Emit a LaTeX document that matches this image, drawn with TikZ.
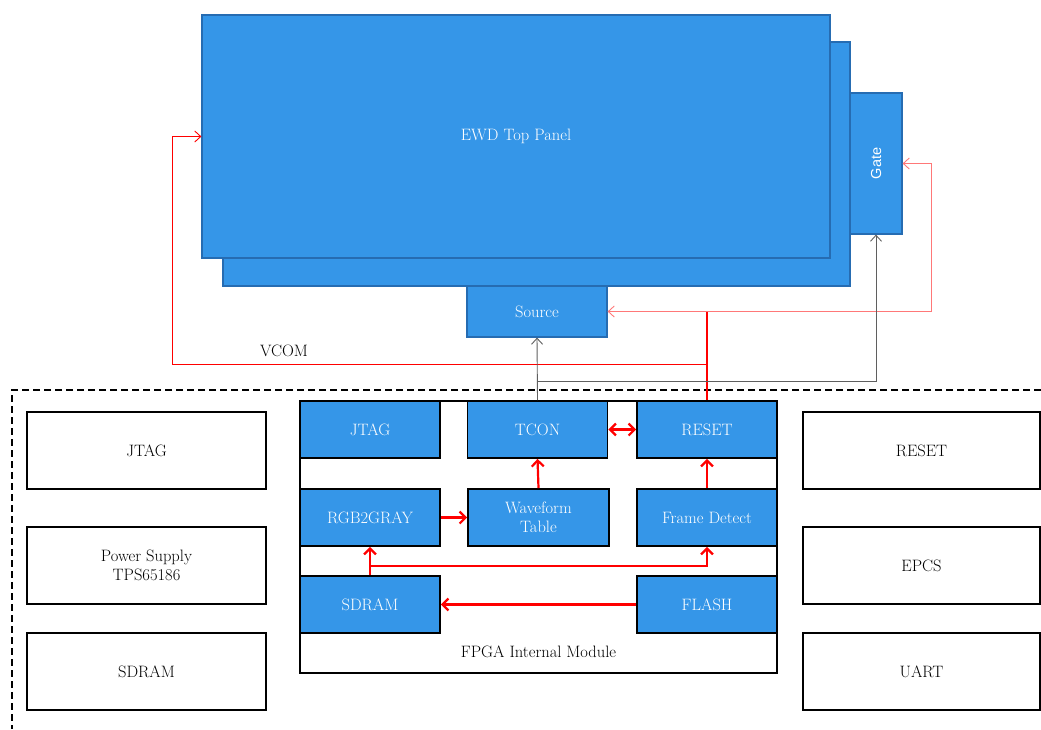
\documentclass[tikz,border=0pt]{standalone}
\usepackage{fontspec}
\newfontfamily\gatefont{Liberation Sans}
\usetikzlibrary{arrows.meta}
\definecolor{panelblue}{RGB}{53,150,232}
\definecolor{paneledge}{RGB}{38,108,178}
\definecolor{pinkline}{RGB}{255,120,120}
\definecolor{conngray}{RGB}{95,95,95}
\begin{document}
\begin{tikzpicture}[x=1pt,y=-1pt,
  txt/.style={font=\fontsize{16.5}{19}\selectfont},
  panel/.style={draw=paneledge,fill=panelblue,line width=1.2pt,text=white,inner sep=0pt,txt},
  innerbox/.style={draw=black,fill=panelblue,line width=1.8pt,text=white,inner sep=0pt,
    minimum width=140pt,minimum height=57pt,align=center,txt},
  extbox/.style={draw=black,fill=white,line width=1.4pt,inner sep=0pt,
    minimum height=77pt,align=center,txt},
  fat/.style={red,line width=2.2pt,-{Straight Barb[length=6pt,width=12pt]}},
  thinarrow/.style={line width=0.9pt,-{Straight Barb[length=6pt,width=11pt]}}
]
\useasboundingbox (0,0) rectangle (1041,729);

% top panel
\node[panel,minimum width=627pt,minimum height=244pt] (back) at (536.5,164) {};
\node[panel,minimum width=628pt,minimum height=243pt] (front) at (516,136.5) {EWD Top Panel};
\node[panel,minimum width=52pt,minimum height=141pt] (gate) at (876,163.5) {};
\node[rotate=90,text=white,font=\gatefont\fontsize{14.5}{16}\selectfont] (gatelbl) at (gate.center) {Gate};
\node[panel,minimum width=140pt,minimum height=51pt] (src) at (537,311.5) {Source};

% dashed board outline
\coordinate (dr) at (1041,390);
\coordinate (dl) at (12,729);
\draw[dashed,line width=1.4pt,dash pattern=on 7pt off 4pt] (dr) -| (dl);

% external boxes
\node[extbox,minimum width=239pt] (ejtag) at (146.5,450.5) {JTAG};
\node[extbox,minimum width=239pt] (epow) at (146.5,565.5) {Power Supply\\TPS65186};
\node[extbox,minimum width=239pt] (esd) at (146.5,671.5) {SDRAM};
\node[extbox,minimum width=237pt] (erst) at (921.5,450.5) {RESET};
\node[extbox,minimum width=237pt] (epcs) at (921.5,565.5) {EPCS};
\node[extbox,minimum width=237pt] (euart) at (921.5,671.5) {UART};

% FPGA internal module
\node[draw=black,fill=white,line width=1.4pt,minimum width=477pt,minimum height=272pt,inner sep=0pt] (fpga) at (538.5,537) {};
\node[txt] (fpgalbl) at (538.5,652) {FPGA Internal Module};

\node[innerbox] (ijtag) at (370,429.5) {JTAG};
\node[innerbox] (itcon) at (537.5,429.5) {TCON};
\node[innerbox] (irst) at (707,429.5) {RESET};
\node[innerbox] (irgb) at (370,517.5) {RGB2GRAY};
\node[innerbox,minimum width=141pt] (iwave) at (538.5,517.5) {Waveform\\Table};
\node[innerbox] (iframe) at (707,517.5) {Frame Detect};
\node[innerbox] (isd) at (370,604.5) {SDRAM};
\node[innerbox] (iflash) at (707,604.5) {FLASH};

% internal arrows
\draw[fat,{Straight Barb[length=6pt,width=12pt]}-{Straight Barb[length=6pt,width=12pt]}] (itcon.east) -- (irst.west);
\draw[fat] (iwave.north) -- (itcon.south);
\draw[fat] (iframe.north) -- (irst.south);
\draw[fat] (irgb.east) -- (iwave.west);
\draw[fat] (isd.north) -- (irgb.south);
\coordinate (split) at (370,566);
\draw[fat] (split) -| (iframe.south);
\draw[fat] (iflash.west) -- (isd.east);

% connections to panel
\coordinate (vj) at (707,364);
\coordinate (vl) at (172,364);
\coordinate (sj) at (707,311.5);
\coordinate (gr) at (931,311.5);
\draw[red,line width=1.3pt] (irst.north) -- (sj);
\draw[red,thinarrow] (vj) -- (vl) |- (front.west);
\node[txt] (vcom) at (284,351) {VCOM};
\draw[pinkline,thinarrow] (sj) -- (src.east);
\draw[pinkline,thinarrow] (sj) -- (gr) |- (gate.east);

\coordinate (gj) at (537.5,381);
\draw[conngray,thinarrow] (itcon.north) -- (src.south);
\draw[conngray,thinarrow] (gj) -| (gate.south);
\end{tikzpicture}
\end{document}
